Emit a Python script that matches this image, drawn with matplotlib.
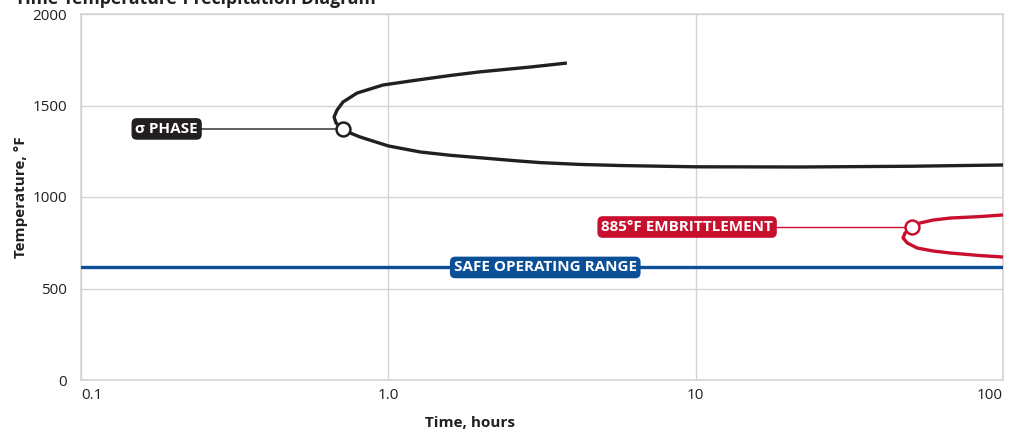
import matplotlib
matplotlib.use("Agg")
import matplotlib.pyplot as plt
from matplotlib import font_manager

# time (hours) / temperature (F)
sigma_time = [3.81, 2.89, 1.99, 1.59, 1.24, 0.961, 0.791, 0.712, 0.681, 0.666, 0.676, 0.712,
              0.751, 0.809, 1.0, 1.27, 1.59, 2.0, 2.6, 3.12, 4.2, 5.68, 10.0, 21.9, 50.0, 100.0]
sigma_temp = [1732, 1710, 1684, 1664, 1639, 1612, 1568, 1519, 1475, 1437, 1404, 1372,
              1350, 1328, 1279, 1246, 1228, 1214, 1198, 1188, 1178, 1172, 1165, 1164, 1168, 1175]

embrit_time = [100.0, 84.2, 67.3, 59.2, 53.7, 50.6, 48.0, 47.3, 48.8, 52.6, 59.2, 67.3,
               84.2, 100.0]
embrit_temp = [902, 893, 885, 874, 858, 836, 803, 776, 749, 721, 705, 694, 680, 672]

safe_temp = 615

# callout label, marker point and label anchor for each curve
sigma_label = "σ PHASE"
sigma_marker = (0.712, 1372)
sigma_label_time = 0.19

embrit_label = "885°F EMBRITTLEMENT"
embrit_marker = (50.6, 836)
embrit_label_time = 9.38

safe_label = "SAFE OPERATING RANGE"
safe_label_time = 3.24

x_ticks = [0.1, 1, 10, 100]
x_tick_labels = ["0.1", "1.0", "10", "100"]
y_ticks = [0, 500, 1000, 1500, 2000]

BLACK = "#231f20"
RED = "#c8102e"
BLUE = "#0b4f96"
GRID = "#d4d4d4"

installed = {f.name for f in font_manager.fontManager.ttflist}
families = [f for f in ["Liberation Sans Narrow", "Open Sans"] if f in installed]
plt.rcParams["font.family"] = families + ["DejaVu Sans"]

fig = plt.figure(figsize=(10.11, 4.32), dpi=100)
ax = fig.add_axes([81 / 1011, 1 - 380 / 432, 922 / 1011, 366 / 432])

ax.set_xscale("log")
ax.set_xlim(0.1, 100)
ax.set_ylim(0, 2000)
ax.set_xticks(x_ticks)
ax.set_xticklabels(x_tick_labels)
ax.minorticks_off()
ax.set_yticks(y_ticks)
ax.tick_params(length=0, labelsize=11, colors=BLACK)
ax.tick_params(axis="x", pad=6)
ax.tick_params(axis="y", pad=10)
# keep the end labels inside the plot width
xlabels = ax.get_xticklabels()
xlabels[0].set_ha("left")
xlabels[-1].set_ha("right")
ax.grid(True, color=GRID, lw=1)
for s in ax.spines.values():
    s.set_color(GRID)
    s.set_linewidth(1.2)
ax.set_axisbelow(True)

ax.set_xlabel("Time, hours", fontsize=11, fontweight="bold", color=BLACK)
ax.xaxis.set_label_coords((470 - 81) / 922, -0.099)
ax.set_ylabel("Temperature, °F", fontsize=11, fontweight="bold", color=BLACK)
ax.yaxis.set_label_coords(-0.058, 0.5)

# curves
ax.plot(sigma_time, sigma_temp, color=BLACK, lw=2.4, solid_capstyle="butt",
        solid_joinstyle="round", zorder=3)
ax.plot(embrit_time, embrit_temp, color=RED, lw=2.4, solid_capstyle="butt",
        solid_joinstyle="round", zorder=3)
ax.axhline(safe_temp, color=BLUE, lw=2.4, zorder=3)

# leader lines from labels to markers
ax.plot([sigma_label_time, sigma_marker[0]], [sigma_marker[1]] * 2, color="#444444",
        lw=1.2, zorder=2)
ax.plot([embrit_label_time, embrit_marker[0]], [embrit_marker[1]] * 2, color=RED,
        lw=1.0, zorder=2)
ax.plot(*sigma_marker, "o", ms=10, mfc="white", mec=BLACK, mew=1.8, zorder=5)
ax.plot(*embrit_marker, "o", ms=10, mfc="white", mec=RED, mew=1.8, zorder=5)

box = dict(boxstyle="round,pad=0.25,rounding_size=0.35", ec="none")
ax.text(sigma_label_time, sigma_marker[1], sigma_label, color="white", fontsize=11,
        fontweight="bold", ha="center", va="center", zorder=6, bbox={**box, "fc": BLACK})
ax.text(embrit_label_time, embrit_marker[1], embrit_label, color="white", fontsize=11,
        fontweight="bold", ha="center", va="center", zorder=6, bbox={**box, "fc": RED})
ax.text(safe_label_time, safe_temp, safe_label, color="white", fontsize=11,
        fontweight="bold", ha="center", va="center", zorder=6, bbox={**box, "fc": BLUE})

fig.text(15 / 1011, 1 - 3.5 / 432, "Time-Temperature-Precipitation Diagram", fontsize=12.7,
         fontweight="bold", color=BLACK, ha="left", va="baseline")

fig.savefig("out.png", dpi=100)
